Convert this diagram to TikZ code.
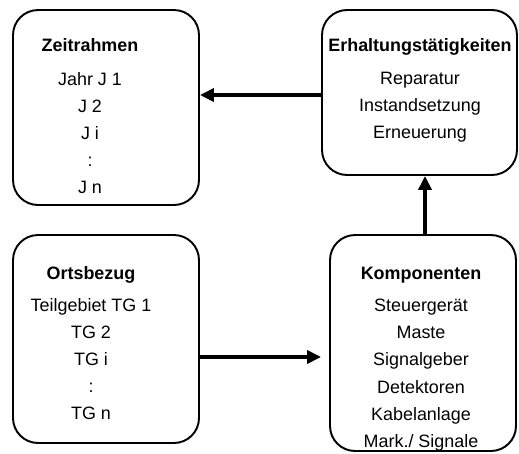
\documentclass[tikz,border=0pt]{standalone}
\usepackage{fontspec}
\setmainfont{Liberation Sans}
\usetikzlibrary{arrows.meta}
\tikzset{kasten/.style={draw,rounded corners=0.5cm,line width=1.1pt,inner sep=0pt},
  txt/.style={inner sep=0pt,anchor=base,font=\fontsize{10.2}{12}\selectfont},
  titel/.style={txt,font=\fontsize{10.2}{12}\selectfont\bfseries},
  pfeil/.style={line width=2.2pt,-{Triangle[length=0.28cm,width=0.26cm]}}}
\newcommand{\kasten}[4]{\node[kasten,minimum width=#3cm,minimum height=#4cm] (#1) at (#2) {};}
\newcommand{\zeile}[4][txt]{\node[#1] (#2) at (#3) {#4};}

\begin{document}
\begin{tikzpicture}[x=0.02cm,y=-0.02cm]
    \useasboundingbox (0,0) rectangle (519,453);

    \kasten{zeit}{106,107.5}{3.72}{3.9}
    \zeile[titel]{zeitT}{90,51.4}{Zeitrahmen}
    \zeile{zeit1}{90,85.5}{Jahr J 1}
    \zeile{zeit2}{90,112.5}{J 2}
    \zeile{zeit3}{90,139.5}{J i}
    \zeile{zeit4}{90,166.5}{:}
    \zeile{zeit5}{90,193.5}{J n}

    \kasten{erh}{419.5,92.5}{3.9}{3.3}
    \zeile[titel]{erhT}{420,51.4}{Erhaltungstätigkeiten}
    \zeile{erh1}{420,84.5}{Reparatur}
    \zeile{erh2}{420,111.5}{Instandsetzung}
    \zeile{erh3}{420,138.5}{Erneuerung}

    \kasten{orts}{106,339}{3.72}{4.16}
    \zeile[titel]{ortsT}{91,279.5}{Ortsbezug}
    \zeile{orts1}{91,311.5}{Teilgebiet TG 1}
    \zeile{orts2}{91,338.5}{TG 2}
    \zeile{orts3}{91,365.5}{TG i}
    \zeile{orts4}{91,392.5}{:}
    \zeile{orts5}{91,419.5}{TG n}

    \kasten{komp}{423,343}{3.72}{4.32}
    \zeile[titel]{kompT}{421,279.5}{Komponenten}
    \zeile{komp1}{421,311.5}{Steuergerät}
    \zeile{komp2}{421,338.7}{Maste}
    \zeile{komp3}{421,365.9}{Signalgeber}
    \zeile{komp4}{421,393.1}{Detektoren}
    \zeile{komp5}{421,420.3}{Kabelanlage}
    \zeile{komp6}{421,447.5}{Mark./ Signale}

    \draw[pfeil] ([yshift=-0.05cm]erh.west) -- ([yshift=-0.05cm]erh.west -| zeit.east);
    \draw[pfeil,shorten >=0.16cm] ([yshift=-0.36cm]orts.east) -- ([yshift=-0.36cm]orts.east -| komp.west);
    \draw[pfeil] ([xshift=0.04cm]komp.north) -- ([xshift=0.04cm]komp.north |- erh.south);
\end{tikzpicture}
\end{document}
